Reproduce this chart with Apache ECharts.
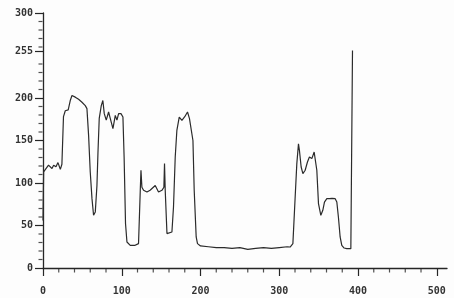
<!DOCTYPE html>
<html>
<head>
<meta charset="utf-8">
<script src="https://cdn.jsdelivr.net/npm/echarts@6/dist/echarts.min.js"></script>
<style>
    html, body { margin: 0; padding: 0; background: #fdfdfd; }
    #chart { width: 454px; height: 298px; }
</style>
</head>
<body>
<div id="chart"></div>
<script>
    // trace values
    var xValues = [0, 0.8, 2, 7, 11.4, 13.5, 16.5, 19, 22, 24, 26, 28.3, 30.4, 32, 34.6, 36.8, 41, 45.2, 49.5, 53.7,
        55.8, 57.9, 60, 62.2, 64.2, 66.4, 68.5, 69.8, 71.4, 74, 76, 77.8, 80.3, 83.3, 85.4, 88.8, 91.8, 93.9, 96, 99,
        101.5, 103, 104.8, 106.6, 110.8, 117, 121.3, 123.5, 124.4, 125.6, 127.7, 132, 136, 142.5, 146.7, 151, 153.5,
        154.3, 155.2, 157.4, 159.4, 163.7, 165.7, 167.9, 170, 173, 176.4, 180, 183.5, 186, 188, 190.4, 192, 194.5,
        196.2, 200, 210, 220, 230, 240, 250, 260, 270, 280, 290, 300, 310, 313.8, 317.3, 320.2, 322.3, 324.4, 325.6,
        327.8, 330, 332.9, 335.8, 338.3, 341.4, 344.3, 346, 347.7, 349.8, 352.8, 355.3, 357.4, 360.4, 363.7, 367, 371,
        373.1, 375.1, 377.3, 379.4, 382.4, 385.8, 390.9, 392.5, 393];
    var yValues = [56, 113, 115, 121, 117, 121, 119, 124, 116, 122, 178, 185, 187, 186, 197, 203, 201, 198.5, 195, 191,
        187.5, 156, 113, 81.6, 62, 66, 97, 136, 176, 191, 197, 181.6, 174, 183.5, 176, 164, 179.6, 174, 181.6, 181.6,
        177.6, 130.6, 52, 30.6, 26.7, 26.7, 28.7, 91, 115, 95, 91.4, 89.4, 91.4, 97, 89.4, 91.4, 95,
        122.8, 91.4, 40.5, 38.5, 42.4, 71.8, 130.6, 162, 177.6, 173.8, 178, 183.5, 175.8, 178, 150, 91.4, 36.5,
        28.7, 26, 25, 24, 24, 23, 24, 22, 23, 24, 23, 24, 25, 24.7, 28.7, 83.5, 122.8, 146, 138.5,
        118.8, 111, 115, 124.7, 130.6, 128.7, 136.5, 138.5, 115, 75.8, 62, 67.9, 77.6, 81.6, 81.6, 82, 81.6,
        77.6, 60, 36.5, 26.7, 23.5, 22.8, 22.8, 21, 256];

    var xMajorTicks = [0, 100, 200, 300, 400, 500];
    var xMinorTicks = [20, 40, 60, 80, 120, 140, 160, 180, 220, 240, 260, 280, 320, 340, 360, 380,
        420, 440, 460, 480];
    var yMajorTicks = [0, 50, 100, 150, 200, 255, 300];
    var yMinorTicks = [10, 20, 30, 40, 60, 70, 80, 90, 110, 120, 130, 140, 160, 170, 180, 190,
        210, 220, 230, 240, 260, 270, 280, 290];

    var points = xValues.map(function (x, i) {
        return [x, yValues[i]];
    });

    var ink = '#262626';
    var labelFont = {
        color: '#333',
        fontFamily: 'DejaVu Sans Mono',
        fontWeight: 'bold',
        fontSize: 10
    };

    var option = {
        backgroundColor: '#fdfdfd',
        animation: false,
        grid: { left: 43, right: 7, top: 13, bottom: 30, containLabel: false, outerBoundsMode: 'none' },
        xAxis: {
            type: 'value',
            min: 0,
            max: 513,
            axisLine: { show: true, onZero: false, lineStyle: { color: ink, width: 1.3 } },
            axisTick: { show: true, customValues: xMajorTicks, length: 8, lineStyle: { color: ink, width: 1.2 } },
            axisLabel: Object.assign({ customValues: xMajorTicks, margin: 18 }, labelFont),
            splitLine: { show: false }
        },
        yAxis: {
            type: 'value',
            min: 0,
            max: 300,
            axisLine: { show: true, onZero: false, lineStyle: { color: ink, width: 1.3 } },
            axisTick: { show: true, customValues: yMajorTicks, length: 8, lineStyle: { color: ink, width: 1.2 } },
            axisLabel: Object.assign({ customValues: yMajorTicks, margin: 10 }, labelFont),
            splitLine: { show: false }
        },
        series: [{
            type: 'line',
            data: points,
            showSymbol: false,
            lineStyle: { color: '#2b2b2b', width: 1.2 },
            z: 3
        }, {
            // short ticks under the x axis
            type: 'scatter',
            data: xMinorTicks.map(function (v) { return [v, 0]; }),
            symbol: 'rect',
            symbolSize: [1.2, 4],
            symbolOffset: [0, 2.5],
            itemStyle: { color: ink },
            clip: false,
            silent: true,
            z: 4
        }, {
            // short ticks left of the y axis
            type: 'scatter',
            data: yMinorTicks.map(function (v) { return [0, v]; }),
            symbol: 'rect',
            symbolSize: [4, 1.2],
            symbolOffset: [-2.5, 0],
            itemStyle: { color: ink },
            clip: false,
            silent: true,
            z: 4
        }]
    };

    var chart = echarts.init(document.getElementById('chart'));
    chart.setOption(option);
</script>
</body>
</html>
